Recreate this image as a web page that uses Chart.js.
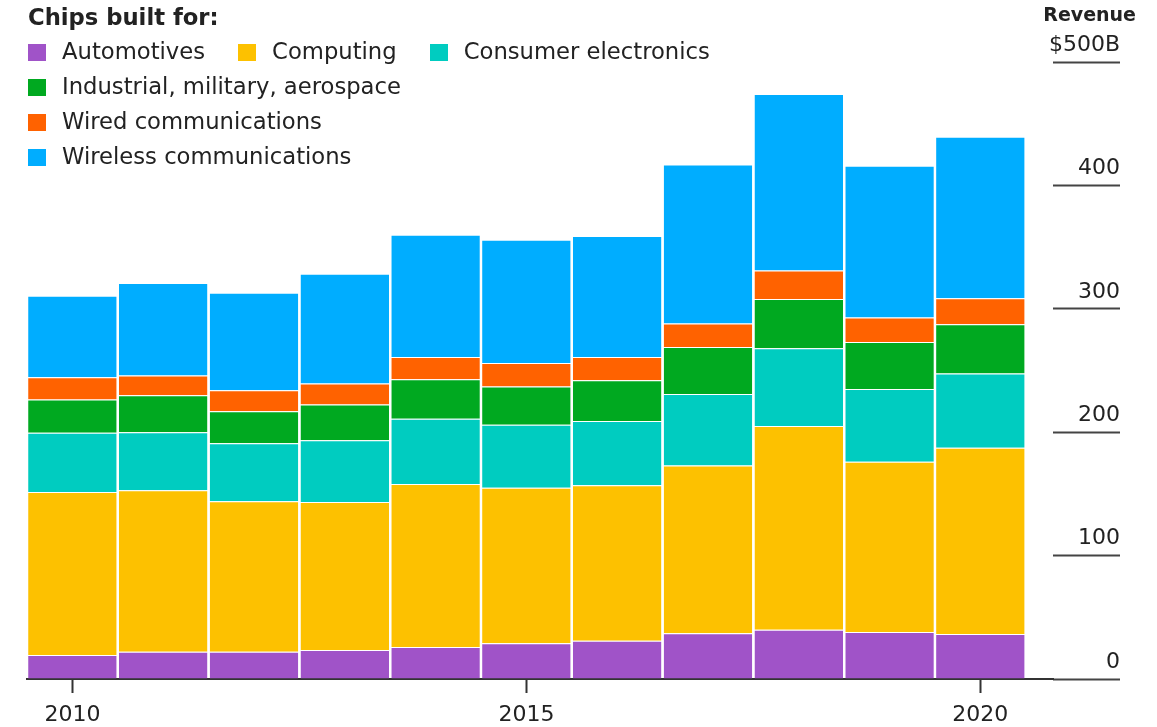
<!DOCTYPE html>
<html>
<head>
<meta charset="utf-8">
<script src="https://cdn.jsdelivr.net/npm/chart.js@4/dist/chart.umd.min.js"></script>
<style>
  html, body { margin: 0; padding: 0; background: #fff; }
  #wrap { position: relative; width: 1157px; height: 727px; font-family: "DejaVu Sans", sans-serif; color: #222; }
  #legend { position: absolute; left: 28px; top: 0; font-size: 22.7px; }
  #legend .title { font-weight: bold; height: 34px; line-height: 34px; }
  #legend .row { height: 35px; line-height: 35px; white-space: nowrap; }
  #legend .item { display: inline-block; margin-right: 33px; }
  #legend .sw { display: inline-block; width: 18px; height: 17px; margin-right: 16px; vertical-align: -2px; }
  #unit { position: absolute; right: 21px; top: 3px; font-weight: bold; font-size: 19px; }
</style>
</head>
<body>
<div id="wrap">
  <canvas id="chart" width="1157" height="727"></canvas>
  <div id="legend"></div>
  <div id="unit">Revenue</div>
</div>
<script>
const YEARS = [2010, 2011, 2012, 2013, 2014, 2015, 2016, 2017, 2018, 2019, 2020];
const X_TICKS = [2010, 2015, 2020];
const Y_TICKS = [0, 100, 200, 300, 400, 500];

const SERIES_NAMES = [
  "Automotives", "Computing", "Consumer electronics",
  "Industrial, military, aerospace", "Wired communications", "Wireless communications"
];
const SERIES_COLORS = ["#a053c8", "#fdc100", "#00ccc0", "#00a920", "#ff6200", "#00adff"];

// $B
const automotives = [19.5, 22, 22, 23.5, 26, 29, 31, 37, 40, 38, 36.5];
const computing   = [132, 131, 122, 120, 132, 126, 126, 136, 165, 138, 151];
const consumer    = [48, 47, 47, 50, 53, 51, 52, 58, 63, 59, 60];
const industrial  = [27, 30, 26, 29, 32, 31, 33, 38, 40, 38, 40];
const wired       = [18, 16, 17, 17, 18, 19, 19, 19, 23, 20, 21];
const wireless    = [66, 75, 79, 89, 99, 100, 98, 129, 143, 123, 131];

const SERIES_VALUES = [automotives, computing, consumer, industrial, wired, wireless];

// legend rows as in the original: first three on one line
const LEGEND_ROWS = [[0, 1, 2], [3], [4], [5]];

function renderLegend() {
  const el = document.getElementById("legend");
  el.innerHTML = `<div class="title">Chips built for:</div>` + LEGEND_ROWS.map(row =>
    `<div class="row">` + row.map(i =>
      `<span class="item"><span class="sw" style="background:${SERIES_COLORS[i]}"></span>${SERIES_NAMES[i]}</span>`
    ).join("") + `</div>`
  ).join("");
}

const TICK_FONT = { family: "DejaVu Sans", size: 22 };

// labels may hang outside the plot, so drop the auto padding chart.js adds for them
function noPad(s) {
  s.paddingTop = 0;
  s.paddingBottom = 0;
  s.paddingLeft = 0;
  s.paddingRight = 0;
}

new Chart(document.getElementById("chart"), {
  type: "bar",
  data: {
    labels: YEARS,
    datasets: SERIES_NAMES.map((name, i) => ({
      label: name,
      data: SERIES_VALUES[i],
      backgroundColor: SERIES_COLORS[i],
      borderColor: "rgba(255,255,255,0.55)",
      borderWidth: { top: 1, right: 0, bottom: 0, left: 0 },
      barPercentage: 0.975,
      categoryPercentage: 1
    }))
  },
  options: {
    responsive: false,
    animation: false,
    layout: { autoPadding: false, padding: { top: 62, left: 27, right: 37, bottom: 0 } },
    plugins: { legend: { display: false }, tooltip: { enabled: false } },
    scales: {
      x: {
        type: "linear",
        stacked: true,
        offset: false,
        min: 2009.5,
        max: 2020.8,
        afterBuildTicks: s => { s.ticks = X_TICKS.map(v => ({ value: v })); },
        afterFit: s => { s.height = 48; noPad(s); },
        ticks: { color: "#222", font: TICK_FONT, padding: 9, maxRotation: 0, callback: v => String(v) },
        grid: { offset: false, drawOnChartArea: false, drawTicks: true, tickLength: 14, tickColor: "#333", tickWidth: 2 },
        border: { display: true, color: "#333", width: 2 }
      },
      y: {
        position: "right",
        stacked: true,
        min: 0,
        max: 500,
        afterBuildTicks: s => { s.ticks = Y_TICKS.map(v => ({ value: v })); },
        afterFit: s => { s.width = 67; noPad(s); },
        ticks: {
          mirror: true,
          padding: 67,
          labelOffset: -17,
          color: "#222",
          font: TICK_FONT,
          callback: v => v === 500 ? "$500B" : String(v)
        },
        grid: { drawOnChartArea: false, drawTicks: true, tickLength: 67, tickColor: "#444", tickWidth: 2 },
        border: { display: false }
      }
    }
  }
});

renderLegend();
</script>
</body>
</html>
